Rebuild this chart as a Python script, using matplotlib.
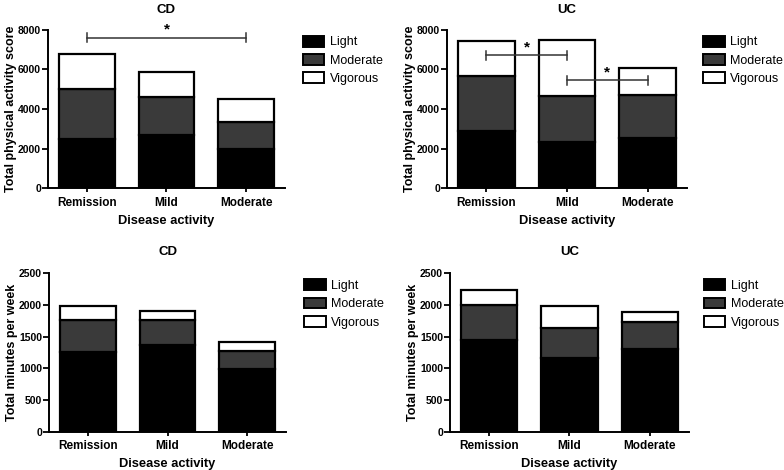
import numpy as np
import matplotlib
matplotlib.use("Agg")
import matplotlib.pyplot as plt
from matplotlib.patches import Patch

plt.rcParams['font.family'] = ['Liberation Sans', 'DejaVu Sans']

categories = ['Remission', 'Mild', 'Moderate']
levels = ['Light', 'Moderate', 'Vigorous']

# physical activity score, segment values
cd_score_light = [2470, 2700, 1980]
cd_score_moderate = [2540, 1920, 1370]
cd_score_vigorous = [1780, 1230, 1170]

uc_score_light = [2890, 2340, 2555]
uc_score_moderate = [2775, 2330, 2145]
uc_score_vigorous = [1780, 2830, 1370]

# minutes per week, segment values
cd_min_light = [1253, 1368, 989]
cd_min_moderate = [510, 390, 279]
cd_min_vigorous = [221, 152, 148]

uc_min_light = [1447, 1168, 1300]
uc_min_moderate = [553, 464, 426]
uc_min_vigorous = [237, 352, 169]

# significance brackets: (from, to, height)
cd_score_sig = [(0, 2, 7600)]
uc_score_sig = [(0, 1, 6700), (1, 2, 5450)]

colors = ['#000000', '#3a3a3a', '#ffffff']

fig = plt.figure(figsize=(7.84, 4.7), dpi=100)
boxes = [
    [0.0612, 0.5994, 0.3023, 0.3374],
    [0.5702, 0.5994, 0.3061, 0.3374],
    [0.0625, 0.0815, 0.3023, 0.3370],
    [0.5740, 0.0815, 0.3048, 0.3370],
]
panels = [
    ('CD', [cd_score_light, cd_score_moderate, cd_score_vigorous], 8000, 2000,
     'Total physical activity score', cd_score_sig, 12, 1.077),
    ('UC', [uc_score_light, uc_score_moderate, uc_score_vigorous], 8000, 2000,
     'Total physical activity score', uc_score_sig, 12, 1.068),
    ('CD', [cd_min_light, cd_min_moderate, cd_min_vigorous], 2500, 500,
     'Total minutes per week', [], 13, 1.077),
    ('UC', [uc_min_light, uc_min_moderate, uc_min_vigorous], 2500, 500,
     'Total minutes per week', [], 13, 1.062),
]

x = np.arange(len(categories))
for box, (title, segs, ymax, step, ylabel, sig, tpad, lx) in zip(boxes, panels):
    ax = fig.add_axes(box)
    bottom = np.zeros(len(categories))
    for vals, col, lab in zip(segs, colors, levels):
        ax.bar(x, vals, width=0.70, bottom=bottom, color=col,
               edgecolor='black', linewidth=1.6, label=lab, zorder=2)
        bottom += np.array(vals)

    for a, b, h in sig:
        cap = ymax * 0.028
        ax.plot([x[a], x[b]], [h, h], color='#333333', lw=1.1, zorder=3)
        ax.plot([x[a], x[a]], [h - cap, h + cap], color='#333333', lw=1.1, zorder=3)
        ax.plot([x[b], x[b]], [h - cap, h + cap], color='#333333', lw=1.1, zorder=3)
        ax.text((x[a] + x[b]) / 2, h + ymax * 0.005, '*', ha='center', va='bottom',
                fontsize=11, fontweight='bold', zorder=4)

    ax.set_xlim(-0.49, 2.49)
    ax.set_ylim(0, ymax)
    ax.set_yticks(np.arange(0, ymax + 1, step))
    ax.set_xticks(x)
    ax.set_xticklabels(categories, fontsize=8.5, fontweight='bold')
    for t in ax.get_yticklabels():
        t.set_fontsize(7.5)
        t.set_fontweight('bold')
    ax.spines['top'].set_visible(False)
    ax.spines['right'].set_visible(False)
    ax.spines['left'].set_linewidth(1.4)
    ax.spines['bottom'].set_linewidth(1.4)
    ax.tick_params(axis='y', length=4, width=1.3, pad=1)
    ax.tick_params(axis='x', length=3, width=1.3, pad=3)
    ax.set_title(title, fontsize=9.5, fontweight='bold', pad=tpad)
    ax.set_xlabel('Disease activity', fontsize=9.3, fontweight='bold', labelpad=4.5)
    ax.set_ylabel(ylabel, fontsize=9, fontweight='bold', labelpad=1)

    handles = [Patch(facecolor=c, edgecolor='black', linewidth=1.4) for c in colors]
    ax.legend(handles, levels, loc='upper left', bbox_to_anchor=(lx, 0.962),
              frameon=False, fontsize=9, handlelength=1.7, handleheight=0.95,
              labelspacing=0.45, handletextpad=0.45, borderpad=0, borderaxespad=0)

fig.savefig('out.png', dpi=100)
